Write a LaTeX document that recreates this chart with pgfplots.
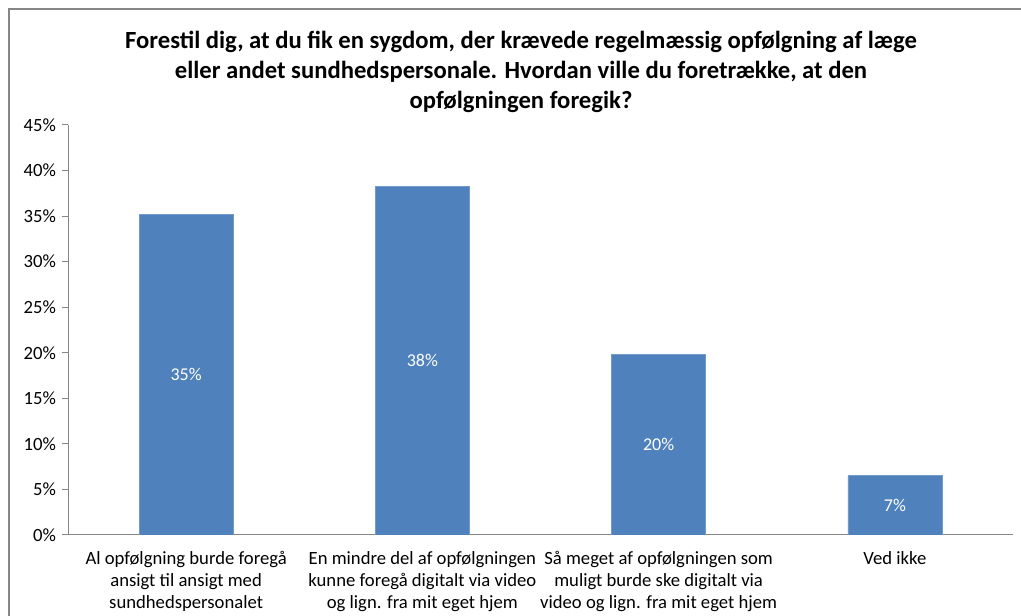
\documentclass[border=0pt]{standalone}
\usepackage{fontspec}
\setmainfont{Carlito}
\usepackage{pgfplots}
\pgfplotsset{compat=1.18}
\definecolor{barblue}{HTML}{4F81BD}
\definecolor{axgray}{HTML}{868686}
\begin{document}
\begin{tikzpicture}[x=0.75pt,y=0.75pt]
\useasboundingbox (0,0) rectangle (1021,616);
\draw[axgray, line width=1.5pt] (9,-5) -- (9,607) -- (1030,607);
\node[align=center, font=\fontsize{18.5}{22.3}\selectfont\bfseries] at (521,544)
  {Forestil dig, at du fik en sygdom, der krævede regelmæssig opfølgning af læge\\
   eller andet sundhedspersonale. Hvordan ville du foretrække, at den\\
   opfølgningen foregik?};
\begin{axis}[
  at={(51pt,60.75pt)}, anchor=south west,
  scale only axis, width=708.75pt, height=307.5pt,
  xmin=-0.5, xmax=3.5, ymin=0, ymax=45,
  axis lines*=left,
  axis line style={axgray, line width=0.75pt},
  ytick={0,5,...,45},
  yticklabel={\pgfmathprintnumber{\tick}\%},
  /pgf/number format/assume math mode=true,
  xtick={0,1,2,3},
  xticklabels={{Al opfølgning burde foregå\\ansigt til ansigt med\\sundhedspersonalet},
               {En mindre del af opfølgningen\\kunne foregå digitalt via video\\og lign. fra mit eget hjem},
               {Så meget af opfølgningen som\\muligt burde ske digitalt via\\video og lign. fra mit eget hjem},
               {Ved ikke}},
  xticklabel style={align=center, font=\fontsize{14}{16.5}\selectfont, anchor=north, yshift=-4.5pt},
  yticklabel style={font=\fontsize{14}{16}\selectfont, xshift=-1pt},
  major x tick style={draw=none},
  extra x ticks={-0.5,0.5,1.5,2.5,3.5},
  extra x tick labels={},
  extra x tick style={tick style={axgray, line width=0.75pt}, major tick length=5pt},
  tick align=outside,
  major tick length=4.5pt,
  y tick style={axgray, line width=0.75pt},
  tick pos=left,
  ybar, bar width=70.5pt,
  visualization depends on=rawy \as \rawy,
  nodes near coords={\pgfmathprintnumber[fixed,precision=0]{\pgfplotspointmeta}\%},
  every node near coord/.append style={font=\fontsize{13.5}{16}\selectfont, text=white, anchor=center, shift={(axis direction cs:0,-\rawy/2)}},
]
\addplot[fill=barblue, draw=barblue!80!white, line width=0.5pt] coordinates {(0,35.2) (1,38.3) (2,19.8) (3,6.5)};
\end{axis}
\end{tikzpicture}
\end{document}
